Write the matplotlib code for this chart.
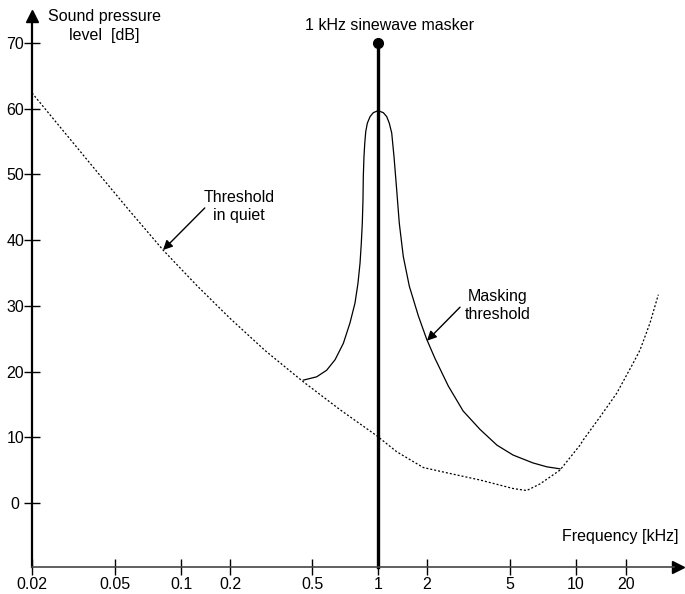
import numpy as np
import matplotlib.pyplot as plt

plt.rcParams['font.family'] = ['Liberation Sans', 'DejaVu Sans']

# x axis of the original drawing: ticks are not on an exact log grid
freq_ticks = [0.02, 0.05, 0.1, 0.2, 0.5, 1, 2, 5, 10, 20]
freq_labels = ['0.02', '0.05', '0.1', '0.2', '0.5', '1', '2', '5', '10', '20']
tick_pos = [32, 115, 181, 230, 312, 378, 427, 510, 576, 626]

db_ticks = [0, 10, 20, 30, 40, 50, 60, 70]
db_labels = ['0 ', '10', '20', '30', '40', '50', '60', '70']

# threshold in quiet (kHz, dB)
quiet_f = [0.02, 0.0288, 0.0415, 0.0585, 0.0828, 0.125, 0.2, 0.296, 0.447, 0.671,
           0.99, 1.303, 1.647, 1.898, 2.485, 3.59, 5.17, 5.96, 6.85, 8.45,
           10.57, 11.06, 13.95, 17.58, 22.1, 24.3, 27.9, 31.3]
quiet_db = [62.4, 56.3, 50.2, 44.4, 38.5, 33.1, 28.1, 23.2, 18.6, 14.2,
            10.2, 7.8, 6.3, 5.4, 4.6, 3.5, 2.2, 1.9, 2.9, 5.0,
            8.8, 9.6, 13.1, 16.7, 21.3, 23.3, 27.4, 31.7]

# masking threshold (kHz, dB)
mask_f = [0.454, 0.525, 0.583, 0.637, 0.695, 0.745, 0.785, 0.810, 0.828, 0.839,
          0.848, 0.854, 0.857, 0.863, 0.870, 0.879, 0.894, 0.920, 0.952, 1.0,
          1.078, 1.131, 1.173, 1.214, 1.254, 1.303, 1.351, 1.430, 1.557, 1.768,
          1.992, 2.184, 2.530, 2.98, 3.59, 4.33, 5.16, 6.36, 7.37, 8.45]
mask_db = [18.7, 19.2, 20.2, 21.8, 24.3, 27.4, 30.4, 33.4, 36.5, 39.5,
           42.6, 46.1, 49.7, 52.7, 54.7, 56.5, 57.8, 58.8, 59.4, 59.7,
           59.4, 58.8, 57.8, 56.3, 52.7, 47.6, 42.6, 37.5, 33.0, 28.5,
           24.9, 22.0, 17.8, 14.0, 11.2, 8.8, 7.3, 6.1, 5.5, 5.2]

masker_f = 1.0
masker_db = 70

# custom x scale following the printed tick spacing
lf = np.log10(freq_ticks)
pos = np.array(tick_pos, dtype=float)
s0 = (pos[1] - pos[0]) / (lf[1] - lf[0])
s1 = (pos[-1] - pos[-2]) / (lf[-1] - lf[-2])
lf_ext = np.r_[lf[0] - 3, lf, lf[-1] + 3]
pos_ext = np.r_[pos[0] - 3 * s0, pos, pos[-1] + 3 * s1]


def fwd(f):
    return np.interp(np.log10(np.clip(f, 1e-9, None)), lf_ext, pos_ext)


def inv(p):
    return 10 ** np.interp(p, pos_ext, lf_ext)


fig = plt.figure(figsize=(6.85, 5.94), dpi=100)
ax = fig.add_axes([32 / 685, 27 / 594, 642 / 685, 547 / 594])
ax.set_xscale('function', functions=(fwd, inv))
ax.set_xlim(0.02, 38.9)
ax.set_ylim(-9.74, 73.5)

ax.plot(quiet_f, quiet_db, color='black', lw=0.9, linestyle=(0, (1.6, 1.6)))
ax.plot(mask_f, mask_db, color='black', lw=0.9)
ax.plot([masker_f, masker_f], [-9.74, masker_db], color='black', lw=2.4, clip_on=False)
ax.plot([masker_f], [masker_db], 'o', color='black', ms=7)

for s in ['top', 'right']:
    ax.spines[s].set_visible(False)
ax.spines['left'].set_linewidth(1.6)
ax.spines['bottom'].set_linewidth(1.2)
ax.spines['bottom'].set_color('#444444')

ax.set_xticks(freq_ticks)
ax.set_xticklabels(freq_labels)
ax.set_yticks(db_ticks)
ax.set_yticklabels(db_labels)
ax.minorticks_off()
ax.tick_params(axis='both', direction='inout', length=11, width=1.0, labelsize=11.5)
ax.tick_params(axis='x', pad=2)
ax.tick_params(axis='y', pad=0)

# axis arrow heads
ax.plot([0], [1.007], marker='^', ms=8, color='black', transform=ax.transAxes, clip_on=False)
ax.plot([1.007], [0], marker='>', ms=8, color='black', transform=ax.transAxes, clip_on=False)

fig.text(104 / 685, 1 - 26 / 594, 'Sound pressure\nlevel  [dB]', ha='center', va='center',
         fontsize=11.5, linespacing=1.3)
fig.text(678 / 685, 1 - 537 / 594, 'Frequency [kHz]', ha='right', va='center', fontsize=11.5)

ax.text(1.17, 72.6, '1 kHz sinewave masker', ha='center', va='center', fontsize=11.5,
        clip_on=False)

ax.text(0.221, 45.1, 'Threshold\nin quiet', ha='center', va='center', fontsize=11.5,
        linespacing=1.25)
ax.annotate('', xy=(0.0828, 38.5), xytext=(0.140, 44.9),
            arrowprops=dict(arrowstyle='-|>', color='black', lw=1.0,
                            shrinkA=0, shrinkB=0, mutation_scale=14))

ax.text(4.38, 30.1, 'Masking\nthreshold', ha='center', va='center', fontsize=11.5,
        linespacing=1.25)
ax.annotate('', xy=(2.0, 24.7), xytext=(2.88, 29.8),
            arrowprops=dict(arrowstyle='-|>', color='black', lw=1.0,
                            shrinkA=0, shrinkB=0, mutation_scale=14))

fig.savefig('out.png', dpi=100)
